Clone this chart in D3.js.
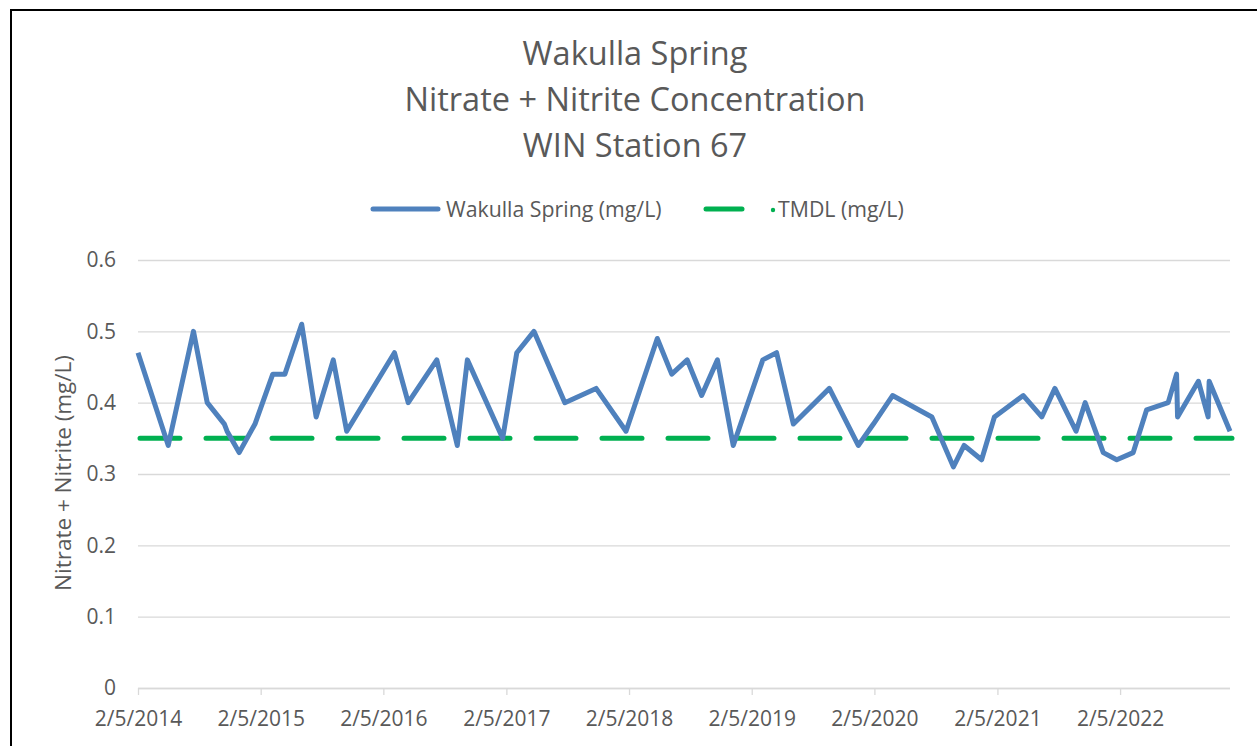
<!DOCTYPE html>
<html>
<head>
<meta charset="utf-8">
<script src="https://cdn.jsdelivr.net/npm/d3@7"></script>
<style>
  html, body { margin: 0; padding: 0; background: #fff; }
  svg { display: block; }
  text { font-family: "Open Sans", "Noto Sans", sans-serif; fill: #595959; }
</style>
</head>
<body>
<svg id="chart" width="1257" height="746"></svg>
<script>
const titleLines = ["Wakulla Spring", "Nitrate + Nitrite Concentration", "WIN Station 67"];
const seriesNames = ["Wakulla Spring (mg/L)", "TMDL (mg/L)"];
const yAxisLabel = "Nitrate + Nitrite (mg/L)";
const yTicks = [0, 0.1, 0.2, 0.3, 0.4, 0.5, 0.6];
const xTickLabels = ["2/5/2014", "2/5/2015", "2/5/2016", "2/5/2017", "2/5/2018", "2/5/2019", "2/5/2020", "2/5/2021", "2/5/2022"];
const dates = [
  "2014-02-05","2014-05-06","2014-07-20","2014-08-30","2014-10-20","2014-10-28","2014-12-03","2015-01-19",
  "2015-03-13","2015-04-18","2015-06-07","2015-07-20","2015-09-09","2015-10-19","2016-03-09",
  "2016-04-19","2016-07-13","2016-09-12","2016-10-12","2017-01-25","2017-03-08","2017-04-28",
  "2017-07-29","2017-10-30","2018-01-27","2018-04-30","2018-06-12","2018-07-28","2018-09-09",
  "2018-10-26","2018-12-12","2019-03-10","2019-04-20","2019-06-09","2019-09-24","2019-12-19",
  "2020-02-02","2020-03-30","2020-07-25","2020-09-27","2020-10-29","2020-12-20","2021-01-27",
  "2021-04-23","2021-06-17","2021-07-26","2021-09-27","2021-10-24","2021-12-17","2022-01-26",
  "2022-03-16","2022-04-25","2022-06-28","2022-07-23","2022-07-26","2022-09-26","2022-10-25",
  "2022-10-28","2022-12-29"
];
const springValues = [
  0.47,0.34,0.50,0.40,0.37,0.36,0.33,0.37,
  0.44,0.44,0.51,0.38,0.46,0.36,0.47,
  0.40,0.46,0.34,0.46,0.35,0.47,0.50,
  0.40,0.42,0.36,0.49,0.44,0.46,0.41,
  0.46,0.34,0.46,0.47,0.37,0.42,0.34,
  0.37,0.41,0.38,0.31,0.34,0.32,0.38,
  0.41,0.38,0.42,0.36,0.40,0.33,0.32,
  0.33,0.39,0.40,0.44,0.38,0.43,0.38,
  0.43,0.36
];
const tmdlValue = 0.35;

const parse = d3.timeParse("%Y-%m-%d");
const parseTick = d3.timeParse("%m/%d/%Y");
const data = dates.map((d, i) => ({ date: parse(d), value: springValues[i] }));
const tickDates = xTickLabels.map(s => parseTick(s));

const svg = d3.select("#chart");
const pLeft = 138, pRight = 1230, pTop = 260, pBottom = 688;

// outer border
svg.append("rect").attr("x", 11).attr("y", 10).attr("width", 1260).attr("height", 760)
  .attr("fill", "none").attr("stroke", "#000").attr("stroke-width", 2);

const x = d3.scaleTime().domain([data[0].date, data[data.length - 1].date]).range([pLeft, pRight]);
const y = d3.scaleLinear().domain([0, 0.6]).range([pBottom, pTop]);

// gridlines
const grid = svg.append("g").attr("transform", `translate(${pLeft},0)`)
  .call(d3.axisLeft(y).tickValues(yTicks).tickSize(-(pRight - pLeft)).tickFormat(""));
grid.select(".domain").remove();
grid.selectAll("line").attr("stroke", "#D9D9D9").attr("stroke-width", 1.3);

// y labels
const yAx = svg.append("g").attr("transform", `translate(${pLeft},0)`)
  .call(d3.axisLeft(y).tickValues(yTicks).tickSize(0).tickPadding(22).tickFormat(d => d === 0 ? "0" : d3.format(".1f")(d)));
yAx.select(".domain").remove();
yAx.selectAll("text").style("font-size", "21px").attr("fill", "#595959")
  .style("font-family", "'Open Sans', sans-serif");

// x axis
const xAx = svg.append("g").attr("transform", `translate(0,${pBottom})`)
  .call(d3.axisBottom(x).tickValues(tickDates).tickSize(7).tickPadding(16).tickFormat((d, i) => xTickLabels[i]));
xAx.select(".domain").attr("stroke", "#D9D9D9").attr("stroke-width", 1.3).attr("d", `M${pLeft},0.5H${pRight}`);
xAx.selectAll("line").attr("stroke", "#D9D9D9").attr("stroke-width", 1.3);
xAx.selectAll("text").style("font-size", "21px").attr("fill", "#595959")
  .style("font-family", "'Open Sans', sans-serif");

// TMDL line
svg.append("line").attr("x1", pLeft).attr("x2", pRight).attr("y1", y(tmdlValue)).attr("y2", y(tmdlValue))
  .attr("stroke", "#00B050").attr("stroke-width", 5).attr("stroke-dasharray", "40,26")
  .attr("stroke-linecap", "round").attr("transform", "translate(2,0)");

// Spring line
const line = d3.line().x(d => x(d.date)).y(d => y(d.value));
svg.append("path").datum(data).attr("d", line).attr("fill", "none")
  .attr("stroke", "#4F81BD").attr("stroke-width", 5).attr("stroke-linejoin", "round");

// Title
const title = svg.append("g");
titleLines.forEach((t, i) => {
  title.append("text").attr("x", 635).attr("y", 65 + i * 46).attr("text-anchor", "middle")
    .style("font-size", "32.5px").text(t);
});

// Legend
const lg = svg.append("g");
lg.append("line").attr("x1", 373).attr("x2", 438).attr("y1", 209).attr("y2", 209)
  .attr("stroke", "#4F81BD").attr("stroke-width", 5).attr("stroke-linecap", "round");
lg.append("text").attr("x", 446).attr("y", 217).style("font-size", "21.3px").text(seriesNames[0]);
lg.append("line").attr("x1", 706).attr("x2", 742).attr("y1", 209).attr("y2", 209)
  .attr("stroke", "#00B050").attr("stroke-width", 5).attr("stroke-linecap", "round");
lg.append("circle").attr("cx", 773).attr("cy", 210).attr("r", 2.2).attr("fill", "#00B050");
lg.append("text").attr("x", 778).attr("y", 217).style("font-size", "21.3px").text(seriesNames[1]);

// Y axis title
svg.append("text").attr("transform", `translate(71,${473}) rotate(-90)`).attr("text-anchor", "middle")
  .style("font-size", "22.5px").text(yAxisLabel);
</script>
</body>
</html>
